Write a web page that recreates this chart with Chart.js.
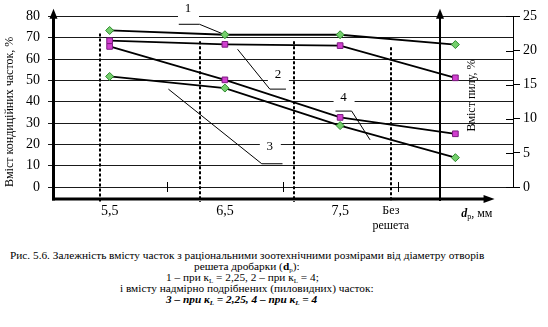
<!DOCTYPE html>
<html lang="uk">
<head>
<meta charset="UTF-8">
<title>Вміст часток від діаметру отворів решета</title>
<script src="https://cdn.jsdelivr.net/npm/chart.js@4.4.0/dist/chart.umd.min.js"></script>
<style>
    body {
        margin: 0;
        background: #fff;
        font-family: "Liberation Serif", "DejaVu Serif", serif;
        color: #000;
    }
    .wrap {
        position: relative;
        width: 548px;
        height: 327px;
        overflow: hidden;
    }
    .chart-box {
        position: absolute;
        left: 0;
        top: 0;
        width: 548px;
        height: 240px;
    }
    .cap {
        position: absolute;
        font-size: 11.3px;
        line-height: 11px;
        white-space: nowrap;
    }
    .cap sub { font-size: 7px; vertical-align: -2px; line-height: 0; }
</style>
</head>
<body>
<div class="wrap">
    <div class="chart-box"><canvas id="chart"></canvas></div>
    <div class="cap" style="left:10px; top:250px;">Рис. 5.6. Залежність вмісту часток з раціональними зоотехнічними розмірами від діаметру отворів</div>
    <div class="cap" style="left:194px; top:261px;">решета дробарки (<b>d</b><sub>р</sub>):</div>
    <div class="cap" style="left:166px; top:272px;">1 – при к<sub>L</sub> = 2,25, 2 – при к<sub>L</sub> = 4;</div>
    <div class="cap" style="left:120px; top:283px;">і вмісту надмірно подрібнених (пиловидних) часток:</div>
    <div class="cap" style="left:166px; top:294px;"><b><i>3 – при к<sub>L</sub> = 2,25, 4 – при к<sub>L</sub> = 4</i></b></div>
</div>

<script>
    // діаметр отворів решета, мм
    const categories = ['5,5', '6,5', '7,5', 'Без решета'];

    // вміст кондиційних часток, % (ліва вісь)
    const condKL225 = [73.4, 71.4, 71.4, 66.8];
    const condKL4 = [68.6, 66.9, 66.3, 51.2];

    // вміст пилу, % (права вісь)
    const dustKL225 = [16.2, 14.5, 9.0, 4.3];
    const dustKL4 = [20.6, 15.7, 10.2, 7.8];

    const leftTicks = { min: 0, max: 80, step: 10 };
    const rightTicks = { min: 0, max: 25, step: 5 };

    // пунктирні вертикалі: положення (в одиницях категорій) і верхня точка (% лівої осі)
    const guides = [
        { x: -0.08, top: 72 },
        { x: 0.78, top: 68.3 },
        { x: 1.60, top: 68.3 },
        { x: 2.44, top: 65.5 }
    ];

    // номери кривих з виносками
    const callouts = [
        { text: '1', at: [0.68, 83.7], line: [[0.60, 76.3], [0.78, 76.3], [1.0, 71.4]] },
        { text: '2', at: [1.46, 52.9], line: [[1.11, 64.6], [1.39, 45.9], [1.53, 45.9]] },
        { text: '3', at: [1.39, 18.8], line: [[0.51, 45.9], [1.32, 10.9], [1.50, 10.9]] },
        { text: '4', at: [2.03, 41.7], line: [[1.96, 35.6], [2.10, 35.6], [2.26, 22.1]] }
    ];

    const SERIF = '"Liberation Serif", "DejaVu Serif", serif';
    const GREEN = '#74cf6c', GREEN_EDGE = '#2d8a2d';
    const MAGENTA = '#d13fcf', MAGENTA_EDGE = '#7d1b80';

    const decor = {
        id: 'decor',
        beforeDatasetsDraw(chart) {
            const { ctx, scales: { x, y } } = chart;
            const yBottom = y.getPixelForValue(-5.6);
            ctx.save();

            // пунктирні лінії
            ctx.strokeStyle = '#000';
            ctx.lineWidth = 2;
            ctx.setLineDash([3, 2]);
            guides.forEach(g => {
                const px = Math.round(x.getPixelForValue(g.x));
                ctx.beginPath();
                ctx.moveTo(px, y.getPixelForValue(g.top));
                ctx.lineTo(px, yBottom + 3);
                ctx.stroke();
            });
            ctx.setLineDash([]);

            // поділки категорійної осі на лінії 0
            ctx.lineWidth = 1;
            const y0 = y.getPixelForValue(0);
            for (let i = 1; i < categories.length; i++) {
                const px = Math.round(x.getPixelForValue(i - 0.5)) + 0.5;
                ctx.beginPath();
                ctx.moveTo(px, y0 - 5);
                ctx.lineTo(px, y0 + 5);
                ctx.stroke();
            }

            // підписи кривих на білому тлі
            ctx.font = '13px ' + SERIF;
            ctx.textAlign = 'center';
            ctx.textBaseline = 'middle';
            callouts.forEach(c => {
                const px = x.getPixelForValue(c.at[0]);
                const py = y.getPixelForValue(c.at[1]);
                ctx.fillStyle = '#fff';
                ctx.fillRect(px - 10, py - 10, 21, 20);
                ctx.fillStyle = '#000';
                ctx.fillText(c.text, px, py);
            });

            // виноски
            ctx.strokeStyle = '#000';
            ctx.lineWidth = 1;
            callouts.forEach(c => {
                ctx.beginPath();
                c.line.forEach((p, i) => {
                    const px = x.getPixelForValue(p[0]);
                    const py = y.getPixelForValue(p[1]);
                    if (i === 0) ctx.moveTo(px, py); else ctx.lineTo(px, py);
                });
                ctx.stroke();
            });
            ctx.restore();
        },
        afterDatasetsDraw(chart) {
            const { ctx, chartArea, scales: { x, y, y2 } } = chart;
            const yBottom = y.getPixelForValue(-5.6);
            const yTip = y.getPixelForValue(83.6);
            ctx.save();
            ctx.strokeStyle = '#000';
            ctx.fillStyle = '#000';

            const arrowUp = (px) => {
                ctx.beginPath();
                ctx.moveTo(px, yTip);
                ctx.lineTo(px - 4, yTip + 10);
                ctx.lineTo(px + 4, yTip + 10);
                ctx.closePath();
                ctx.fill();
            };

            // ліва вісь
            const xl = chartArea.left + 1.5;
            ctx.lineWidth = 3;
            ctx.beginPath();
            ctx.moveTo(xl, yBottom + 1.5);
            ctx.lineTo(xl, yTip + 6);
            ctx.stroke();
            arrowUp(xl);

            // нижня вісь
            const xEnd = x.getPixelForValue(3.34);
            ctx.beginPath();
            ctx.moveTo(chartArea.left, yBottom);
            ctx.lineTo(xEnd - 6, yBottom);
            ctx.stroke();
            ctx.beginPath();
            ctx.moveTo(xEnd, yBottom);
            ctx.lineTo(xEnd - 11, yBottom - 4);
            ctx.lineTo(xEnd - 11, yBottom + 4);
            ctx.closePath();
            ctx.fill();

            // вісь вмісту пилу
            const xm = Math.round(x.getPixelForValue(2.87));
            ctx.lineWidth = 2;
            ctx.beginPath();
            ctx.moveTo(xm, yBottom + 2);
            ctx.lineTo(xm, yTip + 6);
            ctx.stroke();
            arrowUp(xm);

            // внутрішні поділки правої шкали
            ctx.lineWidth = 1;
            y2.ticks.forEach(t => {
                const py = Math.round(y2.getPixelForValue(t.value)) + 0.5;
                ctx.beginPath();
                ctx.moveTo(chartArea.right - 7, py);
                ctx.lineTo(chartArea.right, py);
                ctx.stroke();
            });

            // назва правої осі
            ctx.font = '12px ' + SERIF;
            ctx.textAlign = 'center';
            ctx.textBaseline = 'middle';
            ctx.save();
            ctx.translate(x.getPixelForValue(3.14), y.getPixelForValue(42.9));
            ctx.rotate(-Math.PI / 2);
            ctx.fillText('Вміст пилу, %', 0, 0);
            ctx.restore();

            // "Без решета" під останньою пунктирною лінією
            const xb = x.getPixelForValue(guides[3].x);
            const words = categories[3].split(' ');
            ctx.fillText(words[0], xb, y.getPixelForValue(-11.1));
            ctx.fillText(words[1], xb, y.getPixelForValue(-18.1));

            // позначення осі: d_р, мм
            const xd = x.getPixelForValue(3.05);
            const yd = y.getPixelForValue(-12.4);
            ctx.textAlign = 'left';
            ctx.font = 'bold italic 12px ' + SERIF;
            ctx.fillText('d', xd, yd);
            let w = ctx.measureText('d').width;
            ctx.font = '8px ' + SERIF;
            ctx.fillText('р', xd + w, yd + 3);
            w += ctx.measureText('р').width;
            ctx.font = '12px ' + SERIF;
            ctx.fillText(', мм', xd + w, yd);

            ctx.restore();
        }
    };

    const ctx = document.getElementById('chart').getContext('2d');
    new Chart(ctx, {
        type: 'line',
        data: {
            labels: categories,
            datasets: [
                {
                    label: '1 – при кL = 2,25',
                    data: condKL225,
                    yAxisID: 'y',
                    pointStyle: 'rectRot',
                    pointRadius: 4,
                    backgroundColor: GREEN,
                    pointBorderColor: GREEN_EDGE
                },
                {
                    label: '2 – при кL = 4',
                    data: condKL4,
                    yAxisID: 'y',
                    pointStyle: 'rect',
                    pointRadius: 4,
                    backgroundColor: MAGENTA,
                    pointBorderColor: MAGENTA_EDGE
                },
                {
                    label: '3 – при кL = 2,25',
                    data: dustKL225,
                    yAxisID: 'y2',
                    pointStyle: 'rectRot',
                    pointRadius: 4,
                    backgroundColor: GREEN,
                    pointBorderColor: GREEN_EDGE
                },
                {
                    label: '4 – при кL = 4',
                    data: dustKL4,
                    yAxisID: 'y2',
                    pointStyle: 'rect',
                    pointRadius: 4,
                    backgroundColor: MAGENTA,
                    pointBorderColor: MAGENTA_EDGE
                }
            ].map(ds => Object.assign(ds, {
                borderColor: '#000',
                borderWidth: 1.8,
                pointBorderWidth: 1,
                tension: 0
            }))
        },
        options: {
            responsive: true,
            maintainAspectRatio: false,
            animation: false,
            layout: { padding: { top: 16, left: 0, right: 0, bottom: 0 } },
            plugins: {
                legend: { display: false },
                tooltip: { enabled: false }
            },
            scales: {
                x: {
                    type: 'category',
                    offset: true,
                    grid: { display: false, drawTicks: false },
                    border: { display: false },
                    ticks: {
                        padding: 16,
                        color: '#000',
                        font: { family: SERIF, size: 14 },
                        maxRotation: 0,
                        autoSkip: false,
                        callback: (v, i) => i < 3 ? categories[i] : ''
                    },
                    afterFit: s => { s.height = 53; }
                },
                y: {
                    position: 'left',
                    min: leftTicks.min,
                    max: leftTicks.max,
                    grid: { color: '#1a1a1a', lineWidth: 1, tickLength: 4 },
                    border: { display: false },
                    ticks: {
                        stepSize: leftTicks.step,
                        padding: 8,
                        color: '#000',
                        font: { family: SERIF, size: 14 }
                    },
                    title: {
                        display: true,
                        text: 'Вміст кондиційних часток, %',
                        align: 'start',
                        color: '#000',
                        font: { family: SERIF, size: 12 },
                        padding: { top: 3, bottom: 0 }
                    },
                    afterFit: s => { s.width = 52; }
                },
                y2: {
                    position: 'right',
                    min: rightTicks.min,
                    max: rightTicks.max,
                    grid: { drawOnChartArea: false, color: '#000', tickLength: 7 },
                    border: { display: true, color: '#000', width: 1 },
                    ticks: {
                        stepSize: rightTicks.step,
                        padding: 3,
                        color: '#000',
                        font: { family: SERIF, size: 14 }
                    },
                    afterFit: s => { s.width = 35; }
                }
            }
        },
        plugins: [decor]
    });
</script>
</body>
</html>
